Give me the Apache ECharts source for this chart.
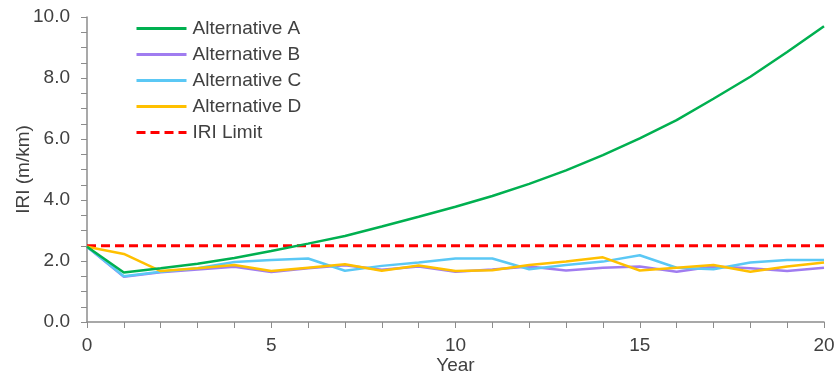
<!DOCTYPE html>
<html>
<head>
<meta charset="utf-8">
<script src="https://cdn.jsdelivr.net/npm/echarts@6/dist/echarts.min.js"></script>
<style>
  html, body { margin: 0; padding: 0; background: #fff; }
  #chart { width: 834px; height: 378px; }
</style>
</head>
<body>
<div id="chart"></div>
<script>
// 数据
const years = [0, 1, 2, 3, 4, 5, 6, 7, 8, 9, 10, 11, 12, 13, 14, 15, 16, 17, 18, 19, 20];
const altA = [2.47, 1.62, 1.76, 1.91, 2.10, 2.33, 2.57, 2.82, 3.13, 3.45, 3.78, 4.13, 4.53, 4.97, 5.47, 6.02, 6.62, 7.32, 8.04, 8.85, 9.70];
const altB = [2.47, 1.48, 1.63, 1.72, 1.81, 1.64, 1.76, 1.86, 1.71, 1.82, 1.65, 1.72, 1.82, 1.69, 1.78, 1.82, 1.65, 1.82, 1.76, 1.67, 1.78];
const altC = [2.47, 1.50, 1.65, 1.76, 1.97, 2.03, 2.08, 1.68, 1.84, 1.95, 2.08, 2.08, 1.73, 1.87, 1.98, 2.19, 1.78, 1.73, 1.95, 2.03, 2.03];
const altD = [2.47, 2.23, 1.67, 1.76, 1.87, 1.67, 1.78, 1.89, 1.68, 1.85, 1.67, 1.70, 1.87, 1.98, 2.12, 1.69, 1.78, 1.87, 1.65, 1.82, 1.95];
const limitYears = [0, 20];
const limitValues = [2.5, 2.5];

const seriesNames = ['Alternative A', 'Alternative B', 'Alternative C', 'Alternative D', 'IRI Limit'];
const colors = ['#00b050', '#a07cf0', '#5bc8f5', '#ffc000', '#ff0000'];

const font = 'Liberation Sans, Arial, sans-serif';
const textColor = '#404040';
const axisColor = '#8c8c8c';
const toPairs = (xs, ys) => xs.map((x, i) => [x, ys[i]]);

const chart = echarts.init(document.getElementById('chart'));

function lineSeries(name, data, color, dashed) {
    return {
        name: name,
        type: 'line',
        data: data,
        symbol: 'none',
        animation: false,
        lineStyle: {
            color: color,
            width: dashed ? 3 : 2.5,
            type: dashed ? [9, 5] : 'solid'
        },
        itemStyle: { color: color }
    };
}

const option = {
    backgroundColor: '#fff',
    grid: {
        left: 87,
        right: 10,
        top: 17,
        bottom: 56,
        containLabel: false,
        outerBoundsMode: 'none'
    },
    legend: {
        orient: 'vertical',
        left: 135,
        top: 19,
        padding: 0,
        itemWidth: 50,
        itemHeight: 19,
        itemGap: 7,
        data: seriesNames,
        itemStyle: { opacity: 0 },
        lineStyle: { width: 3 },
        textStyle: {
            fontFamily: font,
            fontSize: 19,
            color: textColor,
            padding: [0, 0, 0, 1]
        }
    },
    xAxis: {
        type: 'value',
        min: 0,
        max: 20,
        interval: 5,
        name: 'Year',
        nameLocation: 'middle',
        nameGap: 34,
        nameMoveOverlap: false,
        nameTextStyle: { fontFamily: font, fontSize: 19, color: textColor },
        axisLine: { show: true, lineStyle: { color: axisColor, width: 1.5 } },
        axisTick: { show: true, length: 6, lineStyle: { color: axisColor } },
        minorTick: { show: true, splitNumber: 5, length: 6, lineStyle: { color: axisColor } },
        axisLabel: { fontFamily: font, fontSize: 19, color: textColor, margin: 14 },
        splitLine: { show: false }
    },
    yAxis: {
        type: 'value',
        min: 0,
        max: 10,
        interval: 2,
        name: 'IRI (m/km)',
        nameLocation: 'middle',
        nameGap: 54,
        nameMoveOverlap: false,
        nameTextStyle: { fontFamily: font, fontSize: 19, color: textColor },
        axisLine: { show: true, lineStyle: { color: axisColor, width: 1.5 } },
        axisTick: { show: true, length: 6, lineStyle: { color: axisColor } },
        minorTick: { show: true, splitNumber: 4, length: 6, lineStyle: { color: axisColor } },
        axisLabel: {
            fontFamily: font,
            fontSize: 19,
            color: textColor,
            margin: 17,
            formatter: v => v.toFixed(1)
        },
        splitLine: { show: false }
    },
    series: [
        lineSeries(seriesNames[4], toPairs(limitYears, limitValues), colors[4], true),
        lineSeries(seriesNames[1], toPairs(years, altB), colors[1], false),
        lineSeries(seriesNames[2], toPairs(years, altC), colors[2], false),
        lineSeries(seriesNames[3], toPairs(years, altD), colors[3], false),
        lineSeries(seriesNames[0], toPairs(years, altA), colors[0], false)
    ]
};

chart.setOption(option);
</script>
</body>
</html>
